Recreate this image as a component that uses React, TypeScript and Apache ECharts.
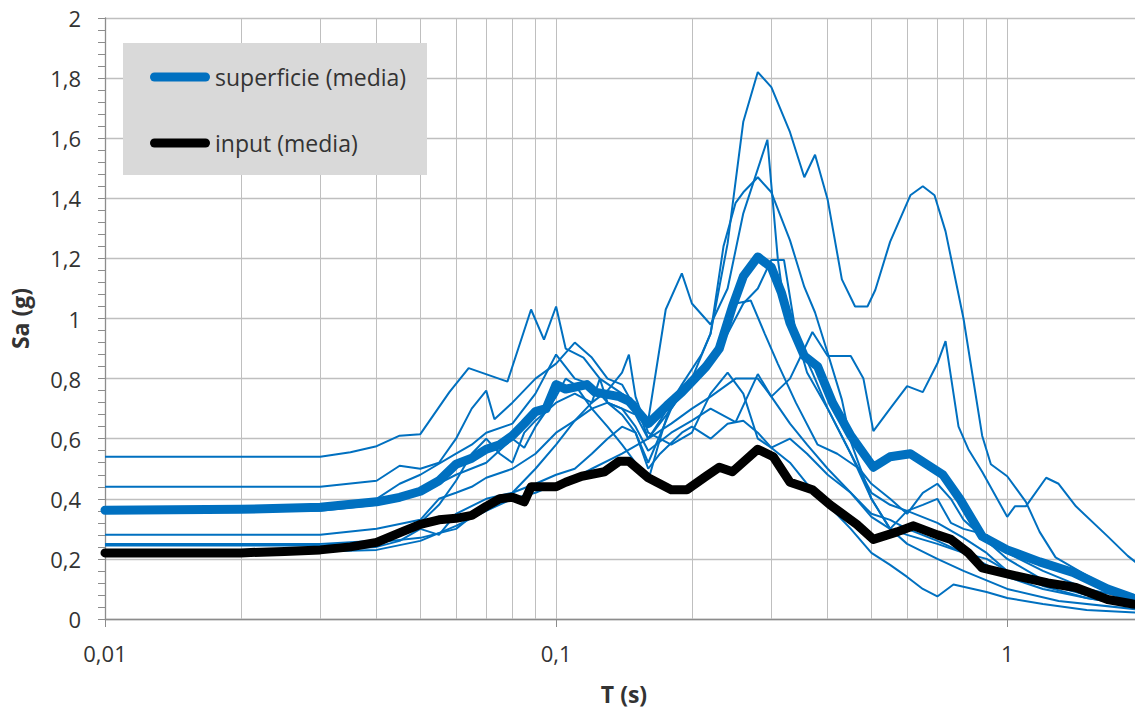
import React, { useEffect, useRef } from "react";
import * as echarts from "echarts";

// ---- data (T in s, Sa in g) ----
const superficieMedia: number[][] = [
  [0.01, 0.362], [0.02, 0.365], [0.03, 0.372], [0.04, 0.39], [0.045, 0.405], [0.05, 0.425],
  [0.055, 0.46], [0.06, 0.515], [0.065, 0.535], [0.07, 0.565], [0.075, 0.58], [0.08, 0.61],
  [0.085, 0.65], [0.09, 0.69], [0.095, 0.7], [0.1, 0.78], [0.105, 0.765], [0.117, 0.78],
  [0.122, 0.755], [0.138, 0.74], [0.145, 0.725], [0.16, 0.65], [0.176, 0.71], [0.19, 0.755],
  [0.2, 0.79], [0.215, 0.84], [0.23, 0.9], [0.246, 1.04], [0.26, 1.14], [0.28, 1.205],
  [0.3, 1.17], [0.316, 1.085], [0.33, 0.985], [0.355, 0.875], [0.38, 0.84], [0.41, 0.72],
  [0.45, 0.61], [0.505, 0.505], [0.55, 0.54], [0.61, 0.55], [0.72, 0.48], [0.785, 0.4],
  [0.88, 0.275], [1.0, 0.23], [1.18, 0.19], [1.4, 0.155], [1.67, 0.1], [1.9, 0.07], [2.0, 0.06],
];

const inputMedia: number[][] = [
  [0.01, 0.22], [0.02, 0.22], [0.025, 0.225], [0.03, 0.23], [0.035, 0.24], [0.04, 0.255],
  [0.0455, 0.29], [0.05, 0.315], [0.055, 0.33], [0.06, 0.335], [0.065, 0.345], [0.07, 0.375],
  [0.075, 0.4], [0.08, 0.405], [0.085, 0.39], [0.088, 0.44], [0.1, 0.44], [0.105, 0.455],
  [0.114, 0.475], [0.128, 0.49], [0.138, 0.525], [0.145, 0.525], [0.16, 0.47], [0.18, 0.43],
  [0.195, 0.43], [0.215, 0.475], [0.23, 0.505], [0.246, 0.49], [0.28, 0.565], [0.303, 0.54],
  [0.33, 0.455], [0.37, 0.43], [0.405, 0.38], [0.464, 0.315], [0.505, 0.265], [0.57, 0.29],
  [0.62, 0.31], [0.7, 0.28], [0.75, 0.265], [0.82, 0.22], [0.88, 0.17], [1.0, 0.15],
  [1.23, 0.12], [1.42, 0.105], [1.67, 0.065], [1.9, 0.05], [2.0, 0.045],
];

const acc1: number[][] = [
  [0.01, 0.54], [0.03, 0.54], [0.035, 0.555], [0.04, 0.575], [0.045, 0.61], [0.05, 0.615],
  [0.058, 0.755], [0.064, 0.835], [0.078, 0.79], [0.088, 1.03], [0.094, 0.93], [0.1, 1.04],
  [0.105, 0.9], [0.115, 0.87], [0.125, 0.8], [0.14, 0.75], [0.15, 0.72], [0.16, 0.6],
  [0.17, 0.66], [0.19, 0.78], [0.21, 0.88], [0.22, 0.95], [0.24, 1.25], [0.26, 1.655],
  [0.28, 1.82], [0.3, 1.77], [0.33, 1.62], [0.355, 1.47], [0.375, 1.545], [0.4, 1.395],
  [0.43, 1.13], [0.46, 1.04], [0.49, 1.04], [0.51, 1.095], [0.55, 1.255], [0.61, 1.41],
  [0.65, 1.44], [0.69, 1.41], [0.73, 1.29], [0.8, 1.0], [0.88, 0.61], [0.92, 0.515],
  [1.0, 0.475], [1.1, 0.39], [1.18, 0.29], [1.28, 0.205], [1.5, 0.145], [1.7, 0.1], [2.0, 0.05],
];

const acc2: number[][] = [
  [0.01, 0.44], [0.03, 0.44], [0.04, 0.46], [0.045, 0.51], [0.05, 0.5], [0.055, 0.52],
  [0.06, 0.6], [0.065, 0.7], [0.07, 0.76], [0.073, 0.665], [0.08, 0.72], [0.09, 0.8],
  [0.1, 0.85], [0.11, 0.92], [0.12, 0.87], [0.13, 0.8], [0.14, 0.78], [0.15, 0.7],
  [0.16, 0.66], [0.175, 1.03], [0.19, 1.15], [0.2, 1.05], [0.22, 0.98], [0.24, 1.1],
  [0.26, 1.35], [0.294, 1.595], [0.31, 1.2], [0.32, 1.05], [0.34, 0.94], [0.37, 0.82],
  [0.4, 0.7], [0.45, 0.55], [0.5, 0.42], [0.55, 0.38], [0.6, 0.36], [0.7, 0.32],
  [0.8, 0.27], [0.9, 0.22], [1.0, 0.16], [1.2, 0.12], [1.5, 0.08], [2.0, 0.04],
];

const acc3: number[][] = [
  [0.01, 0.365], [0.03, 0.37], [0.04, 0.4], [0.045, 0.45], [0.05, 0.48], [0.06, 0.55],
  [0.065, 0.58], [0.07, 0.62], [0.08, 0.65], [0.09, 0.75], [0.1, 0.88], [0.11, 0.8],
  [0.12, 0.78], [0.13, 0.72], [0.14, 0.68], [0.15, 0.62], [0.16, 0.52], [0.18, 0.7],
  [0.2, 0.8], [0.22, 0.95], [0.235, 1.24], [0.25, 1.385], [0.26, 1.42], [0.28, 1.47],
  [0.3, 1.42], [0.33, 1.26], [0.355, 1.105], [0.375, 1.02], [0.4, 0.885], [0.43, 0.73],
  [0.45, 0.59], [0.5, 0.4], [0.55, 0.3], [0.6, 0.25], [0.7, 0.2], [0.8, 0.16],
  [1.0, 0.1], [1.3, 0.06], [2.0, 0.03],
];

const acc4: number[][] = [
  [0.01, 0.355], [0.03, 0.36], [0.04, 0.38], [0.05, 0.42], [0.06, 0.48], [0.07, 0.52],
  [0.08, 0.6], [0.085, 0.57], [0.09, 0.64], [0.1, 0.74], [0.105, 0.8], [0.11, 0.78],
  [0.12, 0.7], [0.13, 0.64], [0.14, 0.58], [0.15, 0.52], [0.16, 0.46], [0.17, 0.6],
  [0.18, 0.72], [0.2, 0.78], [0.22, 0.85], [0.24, 0.95], [0.26, 1.05], [0.28, 1.1],
  [0.3, 1.195], [0.32, 1.195], [0.34, 0.95], [0.36, 0.82], [0.4, 0.7], [0.45, 0.55],
  [0.5, 0.4], [0.55, 0.3], [0.6, 0.28], [0.7, 0.25], [0.8, 0.22], [0.9, 0.18],
  [1.0, 0.14], [1.2, 0.1], [1.5, 0.07], [2.0, 0.04],
];

const acc5: number[][] = [
  [0.01, 0.28], [0.03, 0.28], [0.04, 0.3], [0.05, 0.33], [0.055, 0.4], [0.06, 0.42],
  [0.065, 0.44], [0.07, 0.47], [0.08, 0.5], [0.09, 0.55], [0.1, 0.62], [0.11, 0.66],
  [0.12, 0.7], [0.13, 0.72], [0.14, 0.7], [0.15, 0.68], [0.16, 0.6], [0.18, 0.65],
  [0.2, 0.7], [0.22, 0.74], [0.25, 0.8], [0.28, 0.8], [0.3, 0.74], [0.33, 0.8],
  [0.37, 0.955], [0.4, 0.875], [0.45, 0.875], [0.48, 0.8], [0.505, 0.625], [0.55, 0.7],
  [0.6, 0.775], [0.65, 0.755], [0.7, 0.85], [0.73, 0.925], [0.78, 0.64], [0.82, 0.565],
  [0.88, 0.49], [1.0, 0.34], [1.04, 0.375], [1.1, 0.375], [1.22, 0.47], [1.3, 0.45],
  [1.42, 0.375], [1.67, 0.275], [1.85, 0.21], [2.0, 0.17],
];

const acc6: number[][] = [
  [0.01, 0.245], [0.03, 0.245], [0.04, 0.255], [0.05, 0.27], [0.06, 0.3], [0.07, 0.38],
  [0.075, 0.4], [0.08, 0.42], [0.09, 0.5], [0.1, 0.58], [0.11, 0.66], [0.12, 0.72],
  [0.125, 0.8], [0.13, 0.72], [0.14, 0.7], [0.15, 0.64], [0.16, 0.56], [0.18, 0.62],
  [0.2, 0.66], [0.22, 0.7], [0.25, 0.655], [0.28, 0.815], [0.3, 0.74], [0.33, 0.65],
  [0.36, 0.58], [0.4, 0.5], [0.45, 0.42], [0.5, 0.35], [0.55, 0.33], [0.6, 0.3],
  [0.7, 0.26], [0.8, 0.22], [0.9, 0.2], [1.0, 0.16], [1.2, 0.11], [1.5, 0.07], [2.0, 0.04],
];

const acc7: number[][] = [
  [0.01, 0.23], [0.03, 0.23], [0.04, 0.24], [0.045, 0.26], [0.05, 0.3], [0.055, 0.28],
  [0.06, 0.35], [0.07, 0.4], [0.08, 0.42], [0.09, 0.45], [0.1, 0.48], [0.11, 0.5],
  [0.12, 0.55], [0.13, 0.6], [0.14, 0.64], [0.15, 0.62], [0.16, 0.5], [0.17, 0.55],
  [0.19, 0.62], [0.2, 0.64], [0.22, 0.6], [0.24, 0.65], [0.26, 0.66], [0.28, 0.62],
  [0.3, 0.57], [0.33, 0.52], [0.36, 0.45], [0.4, 0.38], [0.45, 0.3], [0.5, 0.22],
  [0.55, 0.18], [0.6, 0.14], [0.65, 0.1], [0.7, 0.075], [0.76, 0.115], [0.9, 0.09],
  [1.0, 0.07], [1.2, 0.05], [1.5, 0.03], [2.0, 0.02],
];

const acc8: number[][] = [
  [0.01, 0.225], [0.03, 0.225], [0.04, 0.23], [0.05, 0.26], [0.06, 0.31], [0.07, 0.36],
  [0.08, 0.4], [0.09, 0.42], [0.1, 0.45], [0.11, 0.47], [0.12, 0.5], [0.14, 0.55],
  [0.16, 0.6], [0.18, 0.7], [0.2, 0.8], [0.22, 0.86], [0.25, 1.05], [0.27, 1.06],
  [0.29, 0.95], [0.31, 0.85], [0.34, 0.72], [0.38, 0.58], [0.42, 0.55], [0.47, 0.5],
  [0.5, 0.45], [0.55, 0.4], [0.6, 0.35], [0.65, 0.42], [0.7, 0.45], [0.75, 0.4],
  [0.8, 0.33], [0.9, 0.26], [1.0, 0.2], [1.2, 0.13], [1.5, 0.08], [2.0, 0.04],
];

const acc9: number[][] = [
  [0.01, 0.25], [0.03, 0.25], [0.04, 0.26], [0.045, 0.28], [0.05, 0.32], [0.055, 0.38],
  [0.06, 0.46], [0.065, 0.55], [0.07, 0.6], [0.075, 0.55], [0.08, 0.52], [0.085, 0.62],
  [0.09, 0.66], [0.1, 0.72], [0.11, 0.75], [0.12, 0.72], [0.13, 0.76], [0.14, 0.82],
  [0.145, 0.88], [0.15, 0.74], [0.16, 0.62], [0.18, 0.58], [0.2, 0.62], [0.22, 0.75],
  [0.24, 0.82], [0.26, 0.75], [0.28, 0.6], [0.3, 0.57], [0.33, 0.6], [0.36, 0.55],
  [0.4, 0.48], [0.45, 0.42], [0.5, 0.34], [0.55, 0.3], [0.6, 0.36], [0.65, 0.38],
  [0.7, 0.4], [0.75, 0.32], [0.8, 0.3], [0.9, 0.28], [1.0, 0.22], [1.2, 0.16],
  [1.5, 0.1], [2.0, 0.06],
];

const thinSeries: number[][][] = [acc1, acc2, acc3, acc4, acc5, acc6, acc7, acc8, acc9];

const verticalGridT: number[] = [
  0.02, 0.03, 0.04, 0.05, 0.06, 0.07, 0.08, 0.09, 0.1,
  0.2, 0.3, 0.4, 0.5, 0.6, 0.7, 0.8, 0.9, 1,
];

const legendNames: string[] = ["superficie (media)", "input (media)"];
const axisTitles = { x: "T (s)", y: "Sa (g)" };

const BLUE = "#0070c0";
const FONT = "'Open Sans', Lato, sans-serif";
const GRID_COLOR = "#bfbfbf";
const AXIS_COLOR = "#8c8c8c";
const TEXT_COLOR = "#333333";

const CHART_W = 1160;
const CHART_H = 710;

export default function App() {
  const ref = useRef<HTMLDivElement>(null);

  useEffect(() => {
    if (!ref.current) return;
    const chart = echarts.init(ref.current, undefined, { renderer: "svg" });

    const thin = thinSeries.map((d, i) => ({
      name: "acc" + (i + 1),
      type: "line",
      data: d,
      symbol: "none",
      showSymbol: false,
      silent: true,
      z: 2,
      lineStyle: { color: BLUE, width: 2 },
      itemStyle: { color: BLUE },
      ...(i === 0
        ? {
            markLine: {
              silent: true,
              z: 1,
              symbol: ["none", "none"],
              label: { show: false },
              lineStyle: { color: GRID_COLOR, width: 1, type: "solid" },
              emphasis: { disabled: true },
              data: verticalGridT.map((t) => ({ xAxis: t })),
            },
          }
        : {}),
    }));

    chart.setOption({
      animation: false,
      backgroundColor: "#ffffff",
      grid: { left: 102, right: CHART_W - 1143, top: 18, bottom: CHART_H - 620, containLabel: false },
      graphic: [
        {
          type: "rect",
          z: 3,
          silent: true,
          shape: { x: 123, y: 43, width: 304, height: 132 },
          style: { fill: "#d9d9d9" },
        },
      ],
      legend: {
        data: legendNames,
        orient: "vertical",
        left: 123,
        top: 43,
        z: 5,
        padding: [20, 10, 17, 27],
        itemGap: 38,
        itemWidth: 60,
        itemHeight: 9,
        icon: "path://M4.5,0 L55.5,0 A4.5,4.5 0 0 1 55.5,9 L4.5,9 A4.5,4.5 0 0 1 4.5,0 Z",
        selectedMode: false,
        textStyle: { fontFamily: FONT, fontSize: 23, color: TEXT_COLOR, lineHeight: 28 },
      },
      xAxis: {
        type: "log",
        logBase: 10,
        min: 0.01,
        max: 2,
        name: axisTitles.x,
        nameLocation: "middle",
        nameGap: 63,
        nameTextStyle: { fontFamily: FONT, fontSize: 23, fontWeight: "bold", color: TEXT_COLOR },
        axisLine: { show: true, lineStyle: { color: AXIS_COLOR, width: 1.3 } },
        axisTick: { show: true, length: 8, lineStyle: { color: AXIS_COLOR } },
        splitLine: { show: false },
        minorTick: { show: false },
        axisLabel: {
          fontFamily: FONT,
          fontSize: 22,
          color: TEXT_COLOR,
          margin: 23,
          formatter: (v: number) => {
            const l = Math.log10(v);
            if (Math.abs(l - Math.round(l)) > 1e-6) return "";
            return String(Number(v.toPrecision(6))).replace(".", ",");
          },
        },
      },
      yAxis: {
        type: "value",
        min: 0,
        max: 2,
        interval: 0.2,
        name: axisTitles.y,
        nameLocation: "middle",
        nameGap: 74,
        nameRotate: 90,
        nameTextStyle: { fontFamily: FONT, fontSize: 23, fontWeight: "bold", color: TEXT_COLOR },
        axisLine: { show: true, lineStyle: { color: AXIS_COLOR, width: 1.3 } },
        axisTick: { show: true, length: 7, lineStyle: { color: AXIS_COLOR } },
        minorTick: { show: true, splitNumber: 5, length: 7, lineStyle: { color: AXIS_COLOR } },
        splitLine: { show: true, lineStyle: { color: GRID_COLOR, width: 1.3 } },
        axisLabel: {
          fontFamily: FONT,
          fontSize: 22,
          color: TEXT_COLOR,
          margin: 24,
          formatter: (v: number) => String(Math.round(v * 10) / 10).replace(".", ","),
        },
      },
      series: [
        ...thin,
        {
          name: legendNames[0],
          type: "line",
          data: superficieMedia,
          symbol: "none",
          showSymbol: false,
          silent: true,
          z: 3,
          lineStyle: { color: BLUE, width: 9, join: "round", cap: "round" },
          itemStyle: { color: BLUE },
        },
        {
          name: legendNames[1],
          type: "line",
          data: inputMedia,
          symbol: "none",
          showSymbol: false,
          silent: true,
          z: 3,
          lineStyle: { color: "#000000", width: 9, join: "round", cap: "round" },
          itemStyle: { color: "#000000" },
        },
      ],
    });

    return () => chart.dispose();
  }, []);

  return (
    <div
      style={{
        position: "fixed",
        left: 0,
        top: 0,
        width: 1135,
        height: 710,
        overflow: "hidden",
        background: "#fff",
      }}
    >
      <div ref={ref} style={{ width: CHART_W, height: CHART_H }} />
    </div>
  );
}
